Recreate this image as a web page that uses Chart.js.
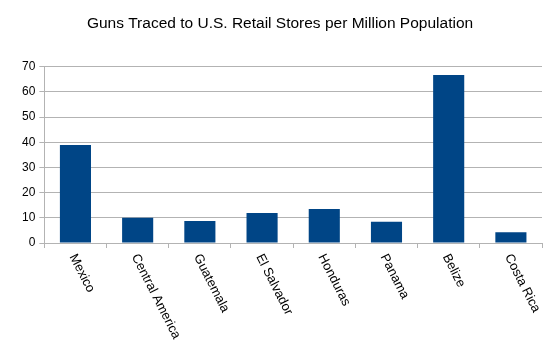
<!DOCTYPE html>
<html>
<head>
    <title>Guns Traced to U.S. Retail Stores</title>
    <script src="https://cdn.jsdelivr.net/npm/chart.js"></script>
    <style>
        body { margin: 0; background: #fff; }
        #wrap { width: 558px; height: 354px; }
    </style>
</head>
<body>
    <div id="wrap"><canvas id="gunsChart"></canvas></div>

    <script>
        // values
        var countries = ['Mexico', 'Central America', 'Guatemala', 'El Salvador', 'Honduras', 'Panama', 'Belize', 'Costa Rica'];
        var gunsPerMillion = [38.9, 10.0, 8.7, 11.9, 13.5, 8.4, 66.7, 4.3];
        var yTicks = [0, 10, 20, 30, 40, 50, 60, 70];

        // x labels go down to the right, which chart.js won't do by itself
        var slantedLabels = {
            id: 'slantedLabels',
            afterDraw: function(chart) {
                var ctx = chart.ctx;
                var xs = chart.scales.x;
                ctx.save();
                ctx.font = '13px "Liberation Sans", Arial, sans-serif';
                ctx.fillStyle = '#000';
                ctx.textAlign = 'left';
                ctx.textBaseline = 'middle';
                countries.forEach(function(name, i) {
                    var x = xs.getPixelForValue(i);
                    ctx.save();
                    ctx.translate(x - 3, xs.top + 12);
                    ctx.rotate(63 * Math.PI / 180);
                    ctx.fillText(name, 0, 0);
                    ctx.restore();
                });
                ctx.restore();
            }
        };

        var ctx = document.getElementById('gunsChart').getContext('2d');
        var chart = new Chart(ctx, {
            type: 'bar',
            data: {
                labels: countries,
                datasets: [{
                    data: gunsPerMillion,
                    backgroundColor: '#004586',
                    borderWidth: 0,
                    categoryPercentage: 1.0,
                    barPercentage: 0.5
                }]
            },
            options: {
                responsive: true,
                maintainAspectRatio: false,
                animation: false,
                layout: { padding: { left: 18, right: 16, top: 0, bottom: 106 } },
                plugins: {
                    legend: { display: false },
                    tooltip: { enabled: false },
                    title: {
                        display: true,
                        text: 'Guns Traced to U.S. Retail Stores per Million Population',
                        color: '#000',
                        font: { family: '"Liberation Sans", Arial, sans-serif', size: 15.5, weight: 'normal' },
                        padding: { top: 14, bottom: 34 }
                    }
                },
                scales: {
                    x: {
                        grid: { drawOnChartArea: false, color: '#b3b3b3', tickLength: 5, offset: true },
                        border: { color: '#b3b3b3' },
                        ticks: { display: false }
                    },
                    y: {
                        min: 0,
                        max: 70,
                        afterBuildTicks: function(axis) {
                            axis.ticks = yTicks.map(function(v) { return { value: v }; });
                        },
                        grid: { color: '#b3b3b3', tickLength: 5 },
                        border: { color: '#b3b3b3' },
                        ticks: {
                            color: '#000',
                            padding: 4,
                            font: { family: '"Liberation Sans", Arial, sans-serif', size: 12 }
                        }
                    }
                }
            },
            plugins: [slantedLabels]
        });
    </script>
</body>
</html>
